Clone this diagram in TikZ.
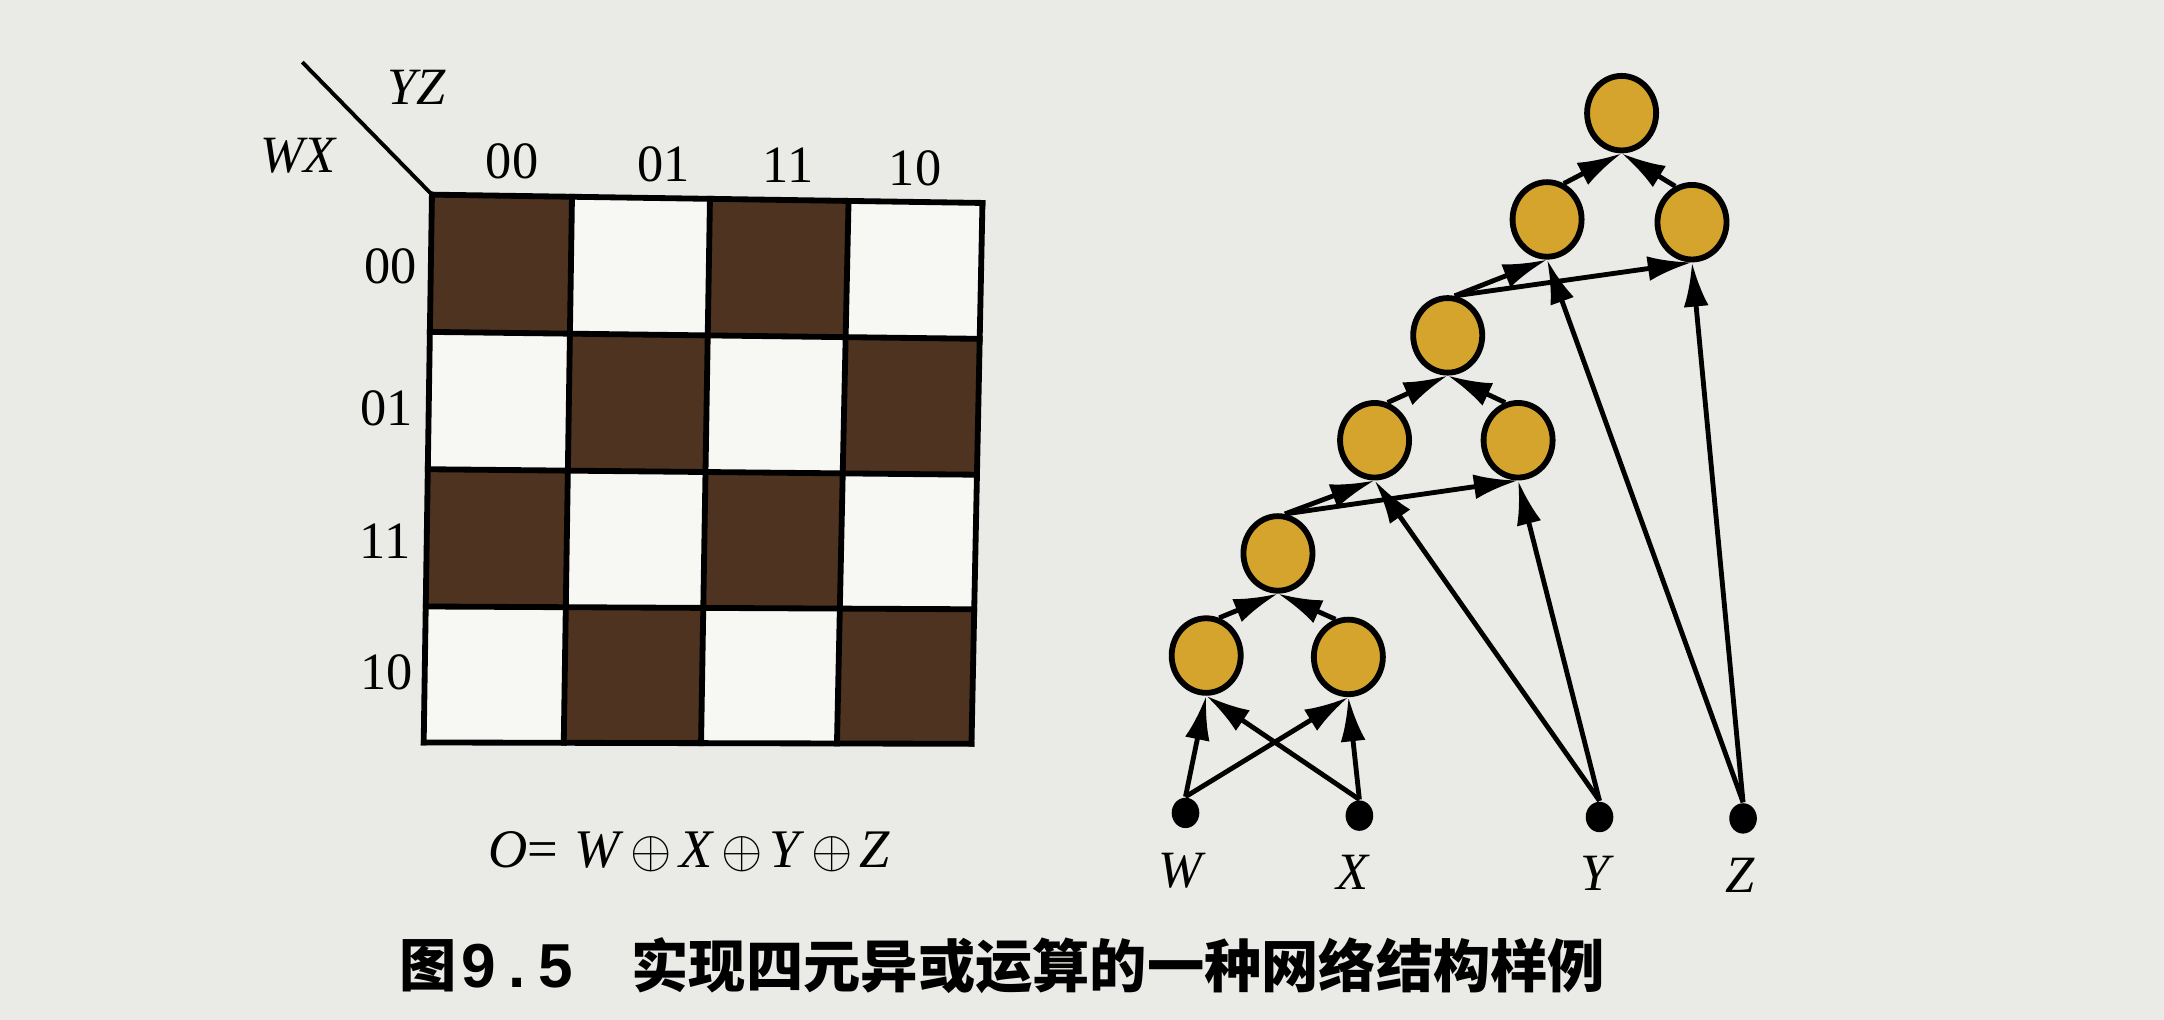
\documentclass[tikz,border=0pt]{standalone}
\usepackage{fontspec}
\setmainfont{Liberation Serif}
\newfontfamily\cjk{Noto Sans CJK SC}
\newfontfamily\capsans{Liberation Sans}
\usetikzlibrary{arrows.meta,shapes.geometric,calc}
\definecolor{paper}{HTML}{EAEBE6}
\definecolor{cellw}{HTML}{F7F7F4}
\definecolor{cellb}{HTML}{4D3320}
\definecolor{gold}{HTML}{D5A42C}
\begin{document}
\begin{tikzpicture}[x=0.01cm,y=-0.01cm,
  lab/.style={font=\fontsize{10.8}{12}\selectfont, inner sep=0pt},
  ilab/.style={font=\fontsize{10.8}{12}\selectfont\itshape, inner sep=0pt},
  neuron/.style={ellipse, draw=black, line width=1.2pt, fill=gold, minimum width=0.5cm, minimum height=0.54cm, inner sep=0pt},
  inp/.style={ellipse, fill=black, minimum width=0.2cm, minimum height=0.22cm, inner sep=0pt},
  conn/.style={line width=1pt, -{Latex[length=0.32cm,width=0.18cm]}},
  gridline/.style={line width=1.2pt, line cap=rect}
]
\fill[paper] (0,0) rectangle (1568,739);
\useasboundingbox (0,0) rectangle (1568,739);

% ---------- Karnaugh map ----------
\foreach \i/\tx/\bx in {0/313/307,1/414.5/408.5,2/514.5/508,3/615/606.5,4/712/704}{
  \coordinate (T\i) at (\tx,141);
  \coordinate (B\i) at (\bx,538);
}
\foreach \j/\ly/\ry in {0/141/147,1/240.5/245.5,2/340/344,3/439.5/441.5,4/538/539}{
  \coordinate (L\j) at (310,\ly);
  \coordinate (R\j) at (708,\ry);
}
\foreach \i in {0,...,4}{\foreach \j in {0,...,4}{
  \coordinate (C\i\j) at (intersection cs: first line={(T\i)--(B\i)}, second line={(L\j)--(R\j)});
}}
\foreach \i in {0,...,3}{\foreach \j in {0,...,3}{
  \pgfmathtruncatemacro\ii{\i+1}
  \pgfmathtruncatemacro\jj{\j+1}
  \pgfmathtruncatemacro\pp{mod(\i+\j,2)}
  \ifnum\pp=0 \def\cc{cellb}\else\def\cc{cellw}\fi
  \fill[\cc] (C\i\j) -- (C\ii\j) -- (C\ii\jj) -- (C\i\jj) -- cycle;
}}
\foreach \i in {0,...,4}{\draw[gridline] (C\i0) -- (C\i4);}
\foreach \j in {0,...,4}{\draw[gridline] (C0\j) -- (C4\j);}
\coordinate (D) at (219,45);
\draw[line width=0.8pt] (D) -- (C00);

\node[ilab] (yz) at (302,63) {YZ};
\node[ilab] (wx) at (216,113) {WX};
\node[lab] (c00) at (371,117) {00};
\node[lab] (c01) at (481,119) {01};
\node[lab] (c11) at (571,120) {11};
\node[lab] (c10) at (663,122) {10};
\node[lab] (r00) at (283,193) {00};
\node[lab] (r01) at (280,296) {01};
\node[lab] (r11) at (279,392) {11};
\node[lab] (r10) at (280,487) {10};

\node[anchor=west, inner sep=0pt, font=\fontsize{11.2}{13}\selectfont] (eq) at (353,617)
  {\def\xg{\kern0.05cm}\textit{O}=\kern0.12cm\textit{W}\xg$\oplus$\xg\textit{X}\xg$\oplus$\xg\textit{Y}\xg$\oplus$\xg\textit{Z}};

% ---------- caption ----------
\node[anchor=west, inner sep=0pt, font=\cjk\bfseries\fontsize{11.8}{14}\selectfont] (fig) at (289,700) {图};
\node[anchor=west, inner sep=0pt, font=\capsans\bfseries\fontsize{12.8}{14}\selectfont] (num) at (334,700) {9\kern0.09cm.\kern0.09cm5};
\node[anchor=west, inner sep=0pt, font=\cjk\bfseries\fontsize{11.8}{14}\selectfont] (cap) at (457,700) {实现四元异或运算的一种网络结构样例};

% ---------- network ----------
\node[neuron] (n1) at (874,475) {};
\node[neuron] (n2) at (977,476) {};
\node[neuron] (n3) at (926,401) {};
\node[neuron] (n4) at (996,319) {};
\node[neuron] (n5) at (1100,319) {};
\node[neuron] (n6) at (1049,243) {};
\node[neuron] (n7) at (1121,159) {};
\node[neuron] (n8) at (1226,161) {};
\node[neuron] (n9) at (1175,82) {};
\node[inp] (w) at (859,589) {};
\node[inp] (x) at (985,591) {};
\node[inp] (y) at (1159,592) {};
\node[inp] (z) at (1263,593) {};
\node[ilab] (wl) at (855,631) {W};
\node[ilab] (xl) at (980,632) {X};
\node[ilab] (yl) at (1156,633) {Y};
\node[ilab] (zl) at (1261,634) {Z};

\draw[conn] (w.north) -- (n1.south);
\draw[conn] (w.north) -- (n2.south);
\draw[conn] (x.north) -- (n1.south);
\draw[conn] (x.north) -- (n2.south);
\draw[conn] (n1.71) -- (n3.south);
\draw[conn] (n2.109) -- (n3.south);
\draw[conn] (n3.80) -- (n4.south);
\draw[conn] (n3.80) -- (n5.south);
\draw[conn] (y.north) -- (n4.south);
\draw[conn] (y.north) -- (n5.south);
\draw[conn] (n4.71) -- (n6.south);
\draw[conn] (n5.109) -- (n6.south);
\draw[conn] (n6.80) -- (n7.south);
\draw[conn] (n6.80) -- (n8.south);
\draw[conn] (z.north) -- (n7.south);
\draw[conn] (z.north) -- (n8.south);
\draw[conn] (n7.65) -- (n9.south);
\draw[conn] (n8.115) -- (n9.south);
\end{tikzpicture}
\end{document}
